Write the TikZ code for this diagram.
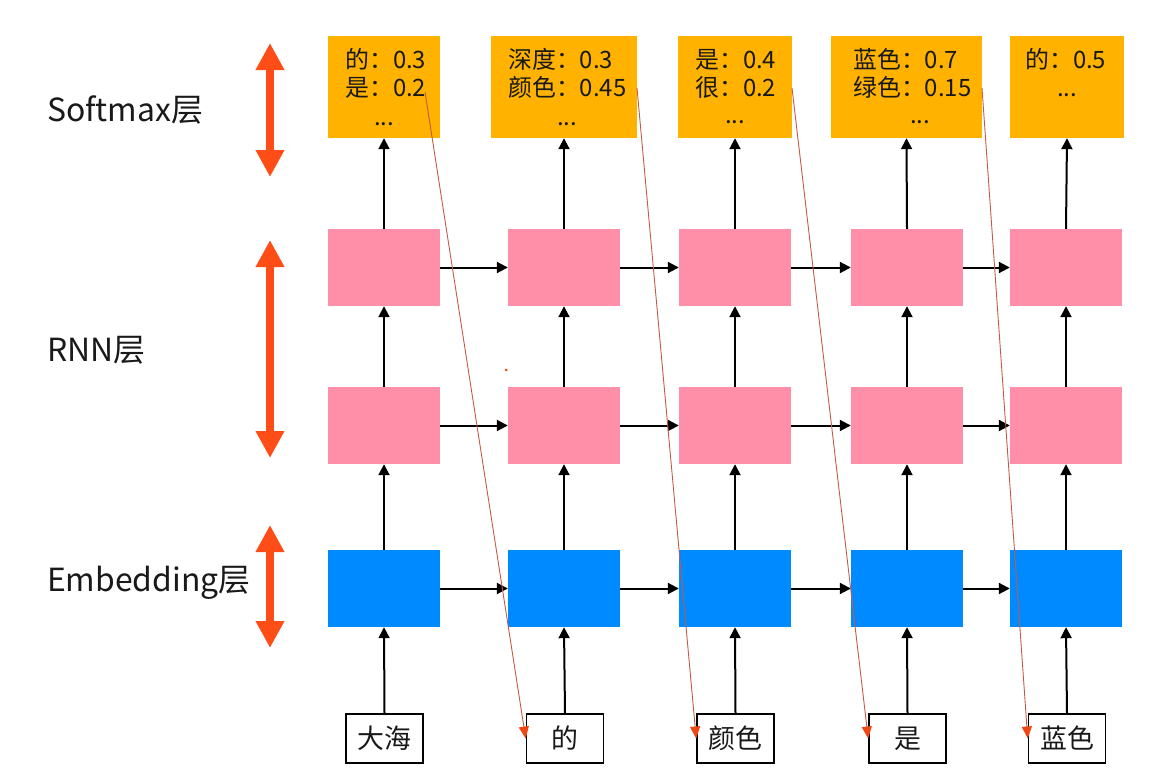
\documentclass[tikz,border=0pt]{standalone}
\usepackage{fontspec}
\setmainfont{Noto Sans CJK SC}
\usetikzlibrary{arrows.meta}
\definecolor{orangebox}{RGB}{255,178,0}
\definecolor{pinkbox}{RGB}{255,143,168}
\definecolor{bluebox}{RGB}{0,138,255}
\definecolor{bigred}{RGB}{255,77,23}
\definecolor{thinred}{RGB}{196,90,70}
\definecolor{tipred}{RGB}{240,70,20}
\definecolor{txt}{RGB}{25,25,25}
\begin{document}
\begin{tikzpicture}[x=1bp,y=-1bp,
  sbox/.style={fill=orangebox, minimum width=#1, minimum height=102bp, inner sep=0pt},
  cell/.style={minimum width=112bp, minimum height=77bp, inner sep=0pt},
  rnn/.style={cell, fill=pinkbox},
  emb/.style={cell, fill=bluebox},
  word/.style={draw=black, line width=1.6bp, fill=white, minimum width=77bp, minimum height=49bp, inner sep=0pt, text=txt, font=\fontsize{27}{30}\selectfont},
  conn/.style={line width=2bp, -{Triangle[length=11bp,width=11bp]}},
  guide/.style={thinred, line width=0.9bp, -{Triangle[length=12bp,width=10bp,color=tipred]}},
  layer/.style={bigred, line width=8bp, {Triangle[length=27bp,width=27bp]}-{Triangle[length=27bp,width=27bp]}},
  lbl/.style={anchor=west, inner sep=0pt, text=txt, font=\fontsize{32}{36}\selectfont},
  ptxt/.style={anchor=base west, inner sep=0pt, text=txt, font=\fontsize{24}{26}\selectfont},
  pdots/.style={anchor=base, inner sep=0pt, text=txt, font=\fontsize{24}{26}\selectfont}
]
\useasboundingbox (0,0) rectangle (1158,783);

% layer labels
\node[lbl] (l1) at (47,110) {Softmax层};
\node[lbl] (l2) at (47,350) {RNN层};
\node[lbl] (l3) at (47,583) {Embedding层};

% big double arrows
\coordinate (a1t) at (270,43); \coordinate (a1b) at (270,177);
\coordinate (a2t) at (270,240); \coordinate (a2b) at (270,458);
\coordinate (a3t) at (270,525); \coordinate (a3b) at (270,648);
\draw[layer] (a1t) -- (a1b);
\draw[layer] (a2t) -- (a2b);
\draw[layer] (a3t) -- (a3b);

% softmax boxes
\node[sbox=112bp] (s1) at (384,87) {};
\node[sbox=146bp] (s2) at (564,87) {};
\node[sbox=114bp] (s3) at (735,87) {};
\node[sbox=151bp] (s4) at (906.5,87) {};
\node[sbox=114bp] (s5) at (1067,87) {};

% softmax texts
\node[ptxt] (t11) at (345,69) {的：0.3};
\node[ptxt] (t12) at (345,97) {是：0.2};
\node[pdots] (t13) at (384,125) {...};
\node[ptxt] (t21) at (508,69) {深度：0.3};
\node[ptxt] (t22) at (508,97) {颜色：0.45};
\node[pdots] (t23) at (567,125) {...};
\node[ptxt] (t31) at (695,69) {是：0.4};
\node[ptxt] (t32) at (695,97) {很：0.2};
\node[pdots] (t33) at (735,123) {...};
\node[ptxt] (t41) at (853,69) {蓝色：0.7};
\node[ptxt] (t42) at (853,97) {绿色：0.15};
\node[pdots] (t43) at (920,123) {...};
\node[ptxt] (t51) at (1025,69) {的：0.5};
\node[pdots] (t53) at (1067,97) {...};

% RNN rows
\node[rnn] (r1) at (384,267.5) {};
\node[rnn] (r2) at (564,267.5) {};
\node[rnn] (r3) at (735,267.5) {};
\node[rnn] (r4) at (907,267.5) {};
\node[rnn] (r5) at (1066,267.5) {};
\node[rnn] (q1) at (384,425.5) {};
\node[rnn] (q2) at (564,425.5) {};
\node[rnn] (q3) at (735,425.5) {};
\node[rnn] (q4) at (907,425.5) {};
\node[rnn] (q5) at (1066,425.5) {};
% embedding row
\node[emb] (e1) at (384,588.5) {};
\node[emb] (e2) at (564,588.5) {};
\node[emb] (e3) at (735,588.5) {};
\node[emb] (e4) at (907,588.5) {};
\node[emb] (e5) at (1066,588.5) {};

% word boxes
\node[word] (w1) at (384.5,738.5) {大海};
\node[word] (w2) at (565,738.5) {的};
\node[word] (w3) at (735.5,738.5) {颜色};
\node[word] (w4) at (907.5,738.5) {是};
\node[word] (w5) at (1067,738.5) {蓝色};

% vertical connectors
\foreach \i in {1,...,5}{
  \draw[conn] (w\i.north) -- (e\i.south);
  \draw[conn] (e\i.north) -- (q\i.south);
  \draw[conn] (q\i.north) -- (r\i.south);
  \draw[conn] (r\i.north) -- (s\i.south);
}
% horizontal connectors
\foreach \i/\j in {1/2,2/3,3/4,4/5}{
  \draw[conn] (r\i.east) -- (r\j.west);
  \draw[conn] (q\i.east) -- (q\j.west);
  \draw[conn] (e\i.east) -- (e\j.west);
}

% guide lines from prediction to next input
\coordinate (p1) at (425,92);
\coordinate (p2) at (637,88);
\coordinate (p3) at (792,88);
\coordinate (p4) at (982,88);
\draw[guide] (p1) -- (w2.west);
\draw[guide] (p2) -- (w3.west);
\draw[guide] (p3) -- (w4.west);
\draw[guide] (p4) -- (w5.west);

% small pointer dot
\fill[tipred] (506,370) circle (1.5bp);
\end{tikzpicture}
\end{document}
